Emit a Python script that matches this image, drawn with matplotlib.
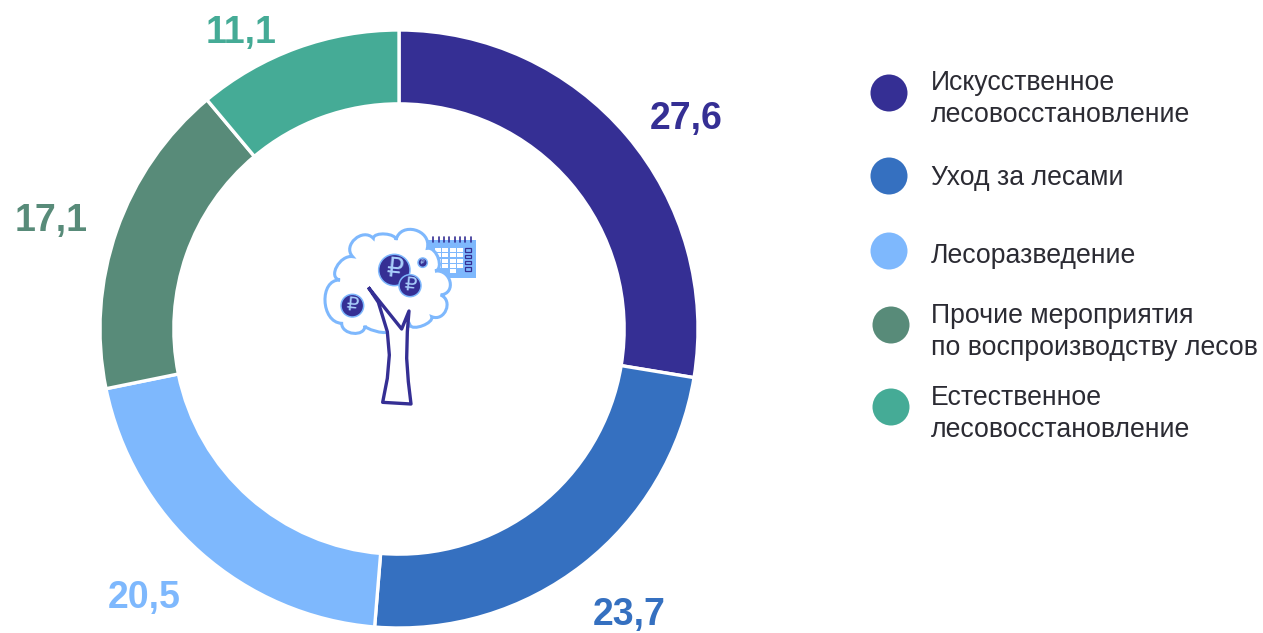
import numpy as np
import matplotlib
matplotlib.use('Agg')
import matplotlib.pyplot as plt
from matplotlib.path import Path
from matplotlib.patches import PathPatch, Circle, Rectangle

plt.rcParams['font.family'] = ['Liberation Sans', 'DejaVu Sans']

# Chart data
categories = ['Искусственное\nлесовосстановление', 'Уход за лесами', 'Лесоразведение',
              'Прочие мероприятия\nпо воспроизводству лесов', 'Естественное\nлесовосстановление']
values = [27.6, 23.7, 20.5, 17.1, 11.1]
value_labels = ['27,6', '23,7', '20,5', '17,1', '11,1']
colors = ['#352F94', '#3570C0', '#7EB8FD', '#588B79', '#45AB96']

# Layout, in pixels of the picture
W, H = 1263, 633
cx, cy, radius = 399, 329, 299
label_pos = [(686, 129), (629, 625), (144, 608), (51, 231), (241, 43)]
legend_dots = [(889, 93), (889, 176), (889, 251), (891, 325), (891, 407)]
legend_text_y = [99, 178, 256, 332, 414]

fig = plt.figure(figsize=(W / 100, H / 100), dpi=100)

# Donut
ax = fig.add_axes([(cx - radius) / W, 1 - (cy + radius) / H, 2 * radius / W, 2 * radius / H])
ax.pie(values, colors=colors, startangle=90, counterclock=False, radius=1,
       wedgeprops={'width': 0.247, 'edgecolor': 'white', 'linewidth': 2.4})
ax.set_xlim(-1, 1)
ax.set_ylim(-1, 1)

# Overlay in pixel coordinates for labels, legend and the icon
ov = fig.add_axes([0, 0, 1, 1])
ov.set_xlim(0, W)
ov.set_ylim(H, 0)
ov.axis('off')
ov.patch.set_alpha(0)

for (x, y), txt, c in zip(label_pos, value_labels, colors):
    ov.text(x, y, txt, color=c, fontsize=27, fontweight='bold', ha='center', va='baseline')

for (x, y), ty, name, c in zip(legend_dots, legend_text_y, categories, colors):
    ov.add_patch(Circle((x, y), 18.5, color=c, lw=0))
    ov.text(931, ty, name, color='#2B2B33', fontsize=19.2, ha='left', va='center', linespacing=1.3)


def z(px, py):
    # icon was measured on a 3x crop starting at (310, 215)
    return (310 + px / 3, 215 + py / 3)


def bumps(points):
    # points go cusp, peak, cusp, peak ... each bump is a cubic through its peak
    verts = [z(*points[0])]
    codes = [Path.MOVETO]
    for i in range(1, len(points) - 1, 2):
        a, p, b = (np.array(q, dtype=float) for q in points[i - 1:i + 2])
        lift = (p - (a + b) / 2) * 4 / 3
        verts += [z(*(a + lift)), z(*(b + lift)), z(*b)]
        codes += [Path.CURVE4, Path.CURVE4, Path.CURVE4]
    return Path(verts, codes)


# Calendar behind the crown
light = '#7EB8FD'
dark = '#352F94'
x0, y0 = z(355, 75)
ov.add_patch(Rectangle((x0, y0), 142 / 3, 115 / 3, color=light, lw=0))
for rx in range(370, 490, 16):
    ov.plot(*zip(z(rx, 67), z(rx, 82)), color=dark, lw=1.2, solid_capstyle='round')
for row in range(5):
    for col in range(4):
        if row == 4 and col != 2:
            continue
        cell = z(375 + col * 22, 99 + row * 16)
        ov.add_patch(Rectangle(cell, 18 / 3, 12 / 3, color='white', lw=0))
for row in range(4):
    cell = z(464, 100 + row * 19)
    ov.add_patch(Rectangle(cell, 18 / 3, 10 / 3, facecolor=light, edgecolor=dark, lw=0.9))

# Crown outline
crown = [(228, 350), (195, 348), (165, 332), (130, 355), (95, 325), (45, 258), (90, 195),
         (80, 155), (128, 125), (135, 72), (190, 70), (225, 57), (258, 75), (315, 45),
         (352, 100), (385, 130), (375, 168), (420, 200), (392, 240), (408, 285), (365, 305),
         (338, 332), (300, 330), (265, 345), (228, 350)]
ov.add_patch(PathPatch(bumps(crown), facecolor='white', edgecolor=light, lw=2.2))

# Coins
coins = [(253, 165, 47, 19), (300, 212, 33, 14), (127, 272, 34, 14), (338, 143, 14, 5)]
for px, py, r, fs in coins:
    ov.add_patch(Circle(z(px, py), r / 3, facecolor=dark, edgecolor=light, lw=1.1))
    ov.text(*z(px, py), '₽', color='#A9CFFB', fontsize=fs, family='DejaVu Sans',
            ha='center', va='center', rotation=-6)

# Trunk
trunk = [(175, 217), (275, 342), (297, 288), (292, 350), (290, 430), (295, 500), (303, 567),
         (218, 562), (232, 490), (238, 420), (232, 350), (205, 262), (175, 217)]
ov.add_patch(PathPatch(Path([z(*p) for p in trunk]), facecolor='white',
                       edgecolor=dark, lw=2.4, joinstyle='round'))

fig.savefig('out.png', dpi=100, facecolor='white')
